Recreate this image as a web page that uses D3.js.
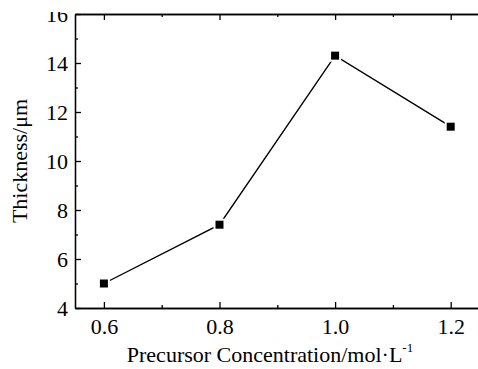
<!DOCTYPE html>
<html>
<head>
<meta charset="utf-8">
<script src="https://cdn.jsdelivr.net/npm/d3@7"></script>
<style>
  body { margin: 0; background: #fff; }
  svg text { font-family: "Liberation Serif", "Times New Roman", serif; fill: #000; }
  .axis path, .axis line { stroke: #000; stroke-width: 1.3; }
</style>
</head>
<body>
<div id="chart"></div>
<script>
// data
var concentration = [0.6, 0.8, 1.0, 1.2];
var thickness = [5.0, 7.4, 14.3, 11.4];
var xMajor = [0.6, 0.8, 1.0, 1.2];
var xMinor = [0.7, 0.9, 1.1];
var yMajor = [4, 6, 8, 10, 12, 14, 16];
var yMinor = [5, 7, 9, 11, 13, 15];

var width = 478, height = 369;
var margin = {top: 14, left: 75, bottom: 308, right: 479.6};

var svg = d3.select("#chart").append("svg")
    .attr("width", width)
    .attr("height", height);

// clip so the top tick label is cut like in the picture
svg.append("defs").append("clipPath").attr("id", "cut")
  .append("rect").attr("x", -200).attr("y", 12).attr("width", 400).attr("height", height);

var x = d3.scaleLinear().domain([0.55, 1.25]).range([margin.left, margin.right]);
var y = d3.scaleLinear().domain([4, 16]).range([margin.bottom, margin.top]);

var fmt = d3.format(".1f");

// bottom axis
svg.append("g").attr("class", "axis")
    .attr("transform", "translate(0," + margin.bottom + ")")
    .call(d3.axisBottom(x).tickValues(xMajor).tickFormat(fmt).tickSizeInner(-6).tickSizeOuter(0).tickPadding(10))
    .call(function(g) { g.selectAll("text").attr("font-size", 22); });
svg.append("g").attr("class", "axis")
    .attr("transform", "translate(0," + margin.bottom + ")")
    .call(d3.axisBottom(x).tickValues(xMinor).tickFormat("").tickSizeInner(-3).tickSizeOuter(0));

// top axis
svg.append("g").attr("class", "axis")
    .attr("transform", "translate(0," + margin.top + ")")
    .call(d3.axisTop(x).tickValues(xMajor).tickFormat("").tickSizeInner(-6).tickSizeOuter(0));
svg.append("g").attr("class", "axis")
    .attr("transform", "translate(0," + margin.top + ")")
    .call(d3.axisTop(x).tickValues(xMinor).tickFormat("").tickSizeInner(-3).tickSizeOuter(0));

// left axis
svg.append("g").attr("class", "axis")
    .attr("transform", "translate(" + margin.left + ",0)")
    .attr("clip-path", "url(#cut)")
    .call(d3.axisLeft(y).tickValues(yMajor).tickFormat(d3.format("d")).tickSizeInner(-6).tickSizeOuter(0).tickPadding(7))
    .call(function(g) { g.selectAll("text").attr("font-size", 22); });
svg.append("g").attr("class", "axis")
    .attr("transform", "translate(" + margin.left + ",0)")
    .call(d3.axisLeft(y).tickValues(yMinor).tickFormat("").tickSizeInner(-3).tickSizeOuter(0));

// line
var line = d3.line()
    .x(function(d, i) { return x(concentration[i]); })
    .y(function(d) { return y(d); });

svg.append("path")
    .datum(thickness)
    .attr("fill", "none")
    .attr("stroke", "#000")
    .attr("stroke-width", 1.4)
    .attr("d", line);

svg.selectAll(".dot")
    .data(thickness)
  .enter().append("rect")
    .attr("class", "dot")
    .attr("x", function(d, i) { return x(concentration[i]) - 5; })
    .attr("y", function(d) { return y(d) - 5; })
    .attr("width", 10)
    .attr("height", 10)
    .attr("fill", "#000")
    .attr("stroke", "#fff")
    .attr("stroke-width", 2);

// axis titles
var xt = svg.append("text")
    .attr("x", 270)
    .attr("y", 362)
    .attr("text-anchor", "middle")
    .attr("font-size", 22);
xt.append("tspan").text("Precursor Concentration/mol\u00b7L");
xt.append("tspan").attr("font-size", 13).attr("dy", -10).text("-1");

svg.append("text")
    .attr("transform", "translate(27,161) rotate(-90)")
    .attr("text-anchor", "middle")
    .attr("font-size", 22)
    .text("Thickness/\u03bcm");
</script>
</body>
</html>
